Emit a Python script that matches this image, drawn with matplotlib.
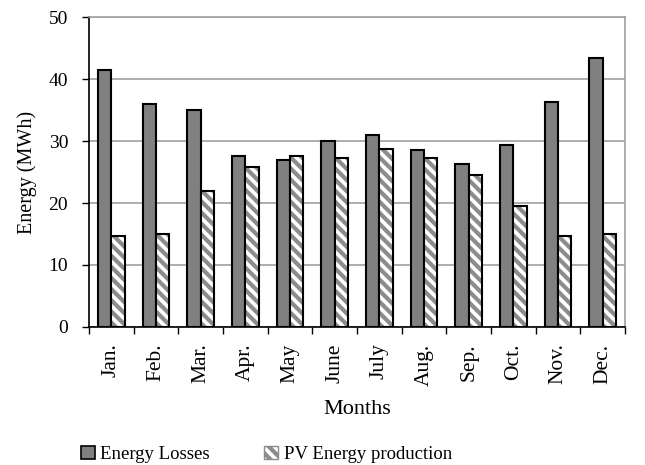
import matplotlib
matplotlib.use("Agg")
import matplotlib.pyplot as plt
import numpy as np
from matplotlib.patches import Patch

plt.rcParams['font.family'] = ['Liberation Serif', 'DejaVu Serif']
plt.rcParams['hatch.linewidth'] = 3

months = ["Jan.", "Feb.", "Mar.", "Apr.", "May", "June", "July", "Aug.", "Sep.", "Oct.", "Nov.", "Dec."]
losses = [41.5, 36.0, 35.0, 27.6, 27.0, 30.0, 31.0, 28.5, 26.3, 29.4, 36.3, 43.4]
pv = [14.7, 15.0, 22.0, 25.8, 27.6, 27.3, 28.8, 27.3, 24.5, 19.5, 14.6, 15.0]

fig = plt.figure(figsize=(6.45, 4.65), dpi=100)
ax = fig.add_axes([0.138, 0.297, 0.831, 0.666])

x = np.arange(len(months))
w = 0.3

ax.bar(x - w/2, losses, w, color="#808080", edgecolor="black", linewidth=1.5, zorder=3)
# hatched bars: gray stripes first, black outline on top
ax.bar(x + w/2, pv, w, color="white", edgecolor="#8c8c8c", hatch="\\\\\\", linewidth=0, zorder=3)
ax.bar(x + w/2, pv, w, fill=False, edgecolor="black", linewidth=1.5, zorder=4)

ax.set_xlim(-0.5, len(months) - 0.5)
ax.set_ylim(0, 50)
ax.set_yticks(range(0, 51, 10))
ax.set_xticks(np.arange(len(months) + 1) - 0.5, minor=False)
ax.set_xticklabels([])
ax.set_xticks(x, minor=True)
ax.set_xticklabels(months, minor=True, rotation=90, fontsize=15.5)
ax.tick_params(axis="x", which="minor", length=0, pad=12)
ax.tick_params(axis="x", which="major", length=5, direction="out", width=1)
ax.tick_params(axis="y", length=5, direction="out", labelsize=14, width=1, pad=10)

ax.grid(axis="y", color="#a0a0a0", linewidth=1.2, zorder=0)
for s in ["top", "right"]:
    ax.spines[s].set_color("#a0a0a0")
    ax.spines[s].set_linewidth(1.2)
for s in ["left", "bottom"]:
    ax.spines[s].set_linewidth(1.2)

ax.set_ylabel("Energy (MWh)", fontsize=14.5, labelpad=8)
ax.set_xlabel("Months", fontsize=16, labelpad=10)

handles = [Patch(facecolor="#808080", edgecolor="black", linewidth=1.2),
           Patch(facecolor="white", edgecolor="#8c8c8c", hatch="\\\\\\")]
leg = fig.legend(handles, ["Energy Losses", "PV Energy production"], loc="lower left",
                 bbox_to_anchor=(0.125, 0.004), borderaxespad=0, borderpad=0, ncol=2,
                 frameon=False, fontsize=13.5,
                 handlelength=0.75, handleheight=0.75, handletextpad=0.3, columnspacing=2.9)

fig.savefig("out.png", dpi=100)
